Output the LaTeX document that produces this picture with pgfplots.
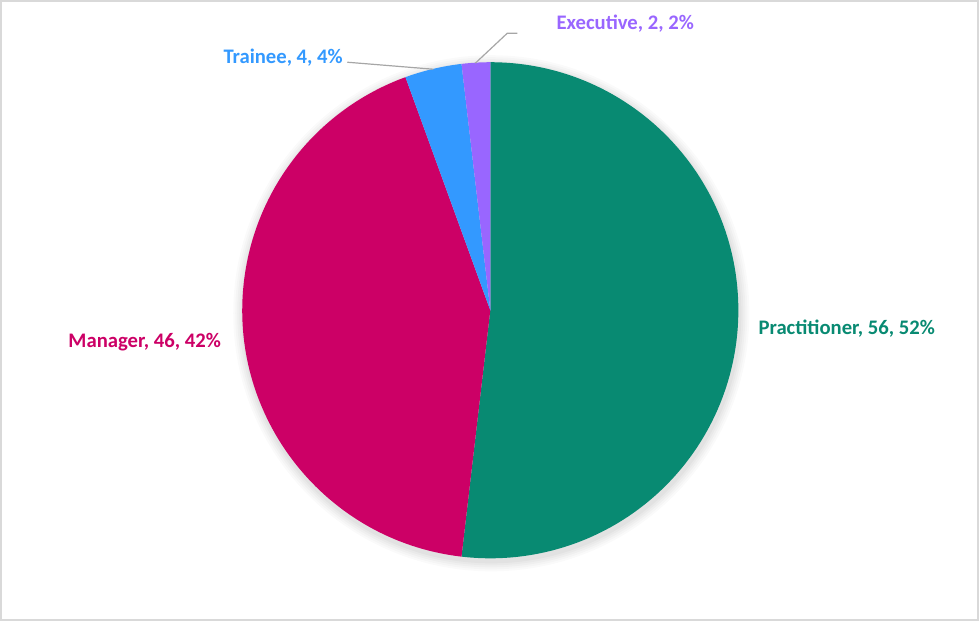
\documentclass[border=0pt]{standalone}
\usepackage{pgfplots}
\usepackage{pgfplotstable}
\usepackage{fontspec}
\setmainfont{Carlito}
\pgfplotsset{compat=1.18}

\definecolor{cPract}{RGB}{8,138,114}
\definecolor{cMan}{RGB}{204,0,102}
\definecolor{cTrain}{RGB}{51,153,255}
\definecolor{cExec}{RGB}{153,102,255}
\definecolor{cLead}{RGB}{166,166,166}
\definecolor{cFrame}{RGB}{217,217,217}

\tikzset{lbl/.style={font=\fontsize{15.5bp}{18bp}\selectfont\bfseries, inner sep=0pt, anchor=base west}}

% pie data: value per category
\pgfplotstableread{
label        value
Practitioner 56
Manager      46
Trainee      4
Executive    2
}\piedata

\pgfplotstablegetelem{0}{value}\of\piedata \let\vA\pgfplotsretval
\pgfplotstablegetelem{1}{value}\of\piedata \let\vB\pgfplotsretval
\pgfplotstablegetelem{2}{value}\of\piedata \let\vC\pgfplotsretval
\pgfplotstablegetelem{3}{value}\of\piedata \let\vD\pgfplotsretval
\pgfmathsetmacro\total{\vA+\vB+\vC+\vD}
\pgfmathsetmacro\perval{360/\total}
% clockwise from 12 o'clock
\pgfmathsetmacro\aA{90}
\pgfmathsetmacro\aB{\aA-\perval*\vA}
\pgfmathsetmacro\aC{\aB-\perval*\vB}
\pgfmathsetmacro\aD{\aC-\perval*\vC}
\pgfmathsetmacro\aE{\aD-\perval*\vD}

\newcommand{\R}{186bp} % 248 px

\begin{document}
\begin{tikzpicture}
\begin{axis}[
    scale only axis,
    width=734.25bp, height=465.75bp,
    xmin=0, xmax=979, ymin=0, ymax=621,
    y dir=reverse,
    hide axis,
    clip=false,
]
% chart frame
\draw[cFrame, line width=1.5bp] (axis cs:0.8,0.8) rectangle (axis cs:977.6,619.6);

% soft shadow
\fill[black, opacity=0.02] (axis cs:491,313) circle[radius=193.5bp];
\fill[black, opacity=0.02] (axis cs:491,313) circle[radius=192bp];
\fill[black, opacity=0.025] (axis cs:491,313) circle[radius=190.5bp];
\fill[black, opacity=0.025] (axis cs:491,313) circle[radius=189bp];
\fill[black, opacity=0.03] (axis cs:491,313) circle[radius=187.5bp];

% slices
\fill[cPract] (axis cs:490,310) -- ++(\aA:\R) arc[start angle=\aA, end angle=\aB, radius=\R] -- cycle;
\fill[cMan]   (axis cs:490,310) -- ++(\aB:\R) arc[start angle=\aB, end angle=\aC, radius=\R] -- cycle;
\fill[cTrain] (axis cs:490,310) -- ++(\aC:\R) arc[start angle=\aC, end angle=\aD, radius=\R] -- cycle;
\fill[cExec]  (axis cs:490,310) -- ++(\aD:\R) arc[start angle=\aD, end angle=\aE, radius=\R] -- cycle;

% leader lines
\draw[cLead, line width=0.9bp] (axis cs:347,62) -- (axis cs:433,69);
\draw[cLead, line width=0.9bp] (axis cs:517,33) -- (axis cs:507,33) -- (axis cs:475,63);

% data labels
\node[lbl, text=cPract] at (axis cs:758,334) {Practitioner, \vA, 52\%};
\node[lbl, text=cMan]   at (axis cs:68,347)  {Manager, \vB, 42\%};
\node[lbl, text=cTrain] at (axis cs:223,63)  {Trainee, \vC, 4\%};
\node[lbl, text=cExec]  at (axis cs:556,29)  {Executive, \vD, 2\%};
\end{axis}
\end{tikzpicture}
\end{document}
